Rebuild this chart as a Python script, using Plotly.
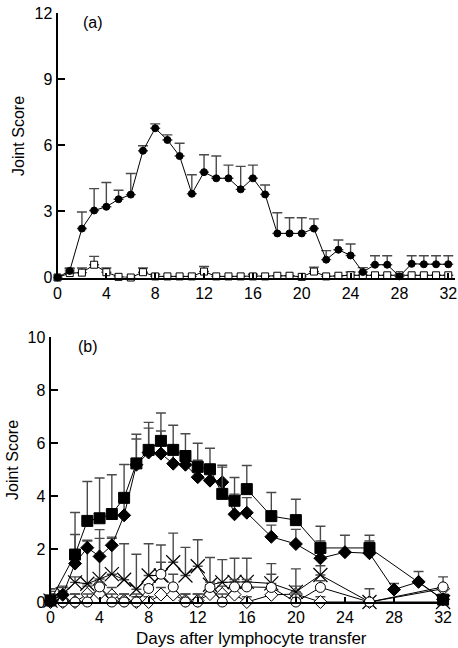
import plotly.graph_objects as go

# ---------------- Panel (a) ----------------
days_a = list(range(0, 33))
a_filled_mean = [0, 0.3, 2.22, 3.04, 3.21, 3.55, 3.76, 5.75, 6.77, 6.24, 5.51, 3.8, 4.78, 4.5, 4.5, 4.0,
                 4.5, 3.77, 2.0, 2.0, 2.0, 2.22, 0.81, 1.26, 1.0, 0.25, 0.58, 0.58, 0.05, 0.62, 0.6, 0.6, 0.6]
a_filled_top = [0, 0.4, 2.97, 4.03, 4.31, 3.96, 4.72, 5.98, 6.97, 6.47, 6.09, 4.66, 5.57, 5.51, 5.1, 5.04,
                5.1, 4.2, 2.94, 2.71, 2.71, 2.66, 1.22, 1.7, 1.52, 0.45, 0.99, 0.99, 0.1, 0.99, 0.99, 0.99, 0.99]
a_open_mean = [0, 0.2, 0.22, 0.58, 0.24, 0.03, 0.0, 0.24, 0.05, 0.05, 0.05, 0.05, 0.27, 0.05, 0.05, 0.05,
               0.05, 0.05, 0.08, 0.08, 0.03, 0.27, 0.05, 0.08, 0.1, 0.1, 0.1, 0.1, 0.1, 0.1, 0.1, 0.1, 0.1]
a_open_top = [0, 0.43, 0.43, 0.96, 0.43, 0.03, 0.0, 0.43, 0.15, 0.05, 0.05, 0.05, 0.5, 0.05, 0.05, 0.05,
              0.15, 0.05, 0.08, 0.08, 0.03, 0.47, 0.05, 0.08, 0.25, 0.1, 0.1, 0.1, 0.1, 0.1, 0.1, 0.1, 0.1]

# ---------------- Panel (b) ----------------
days_b = [0, 1, 2, 3, 4, 5, 6, 7, 8, 9, 10, 11, 12, 13, 14, 15, 16, 18, 20, 22, 26, 32]
days_sq = [0, 2, 3, 4, 5, 6, 7, 8, 9, 10, 11, 12, 13, 14, 15, 16, 18, 20, 22, 26, 32]
sq_mean = [0.06, 1.79, 3.06, 3.16, 3.32, 3.93, 5.23, 5.74, 6.08, 5.74, 5.51, 5.1, 5.01, 4.08, 3.82, 4.26,
           3.24, 3.09, 2.04, 2.04, 0.09]
sq_top = [0.5, 3.38, 4.55, 4.68, 4.8, 5.19, 6.33, 6.78, 7.13, 6.67, 6.35, 5.99, 5.8, 5.16, 4.7, 5.15,
          4.13, 3.88, 2.86, 2.52, 0.09]

days_dm = [0, 1, 2, 3, 4, 5, 6, 7, 8, 9, 10, 11, 12, 13, 14, 15, 16, 18, 20, 22, 24, 26, 28, 30, 32]
dm_mean = [0.05, 0.27, 1.45, 2.05, 1.72, 2.14, 3.27, 5.18, 5.64, 5.6, 5.22, 5.18, 4.71, 4.58, 4.52, 3.31,
           3.37, 2.46, 2.19, 1.65, 1.88, 1.84, 0.47, 0.76, 0.1]
dm_top = [0.3, 0.55, 2.55, 2.33, 2.73, 2.45, 3.9, 6.15, 6.56, 6.45, 5.75, 5.5, 5.35, 4.96, 5.09, 4.07,
          3.94, 2.9, 2.74, 2.3, 2.52, 2.3, 0.7, 1.15, 0.1]

cr_mean = [0.05, 0.3, 0.74, 0.69, 0.87, 1.05, 0.84, 0.48, 1.0, 1.0, 1.5, 1.0, 1.35, 0.65, 0.74, 0.76,
           0.76, 0.7, 0.38, 1.02, 0.0, 0.0]
cr_top = [0.5, 0.6, 0.95, 2.3, 2.4, 2.4, 2.2, 1.8, 2.2, 2.15, 2.6, 2.06, 2.35, 1.68, 1.6, 1.65,
          1.65, 1.45, 1.25, 1.37, 0.5, 0.0]

ci_mean = [0, 0, 0, 0, 0.57, 0, 0, 0, 0.51, 1.05, 0.57, 0, 0, 0.55, 0, 0.57,
           0.57, 0.55, 0, 0.55, 0, 0.57]
ci_top = [0.4, 0.4, 0.3, 0.3, 0.75, 0.3, 0.3, 0.3, 0.65, 1.5, 1.05, 0.3, 0.3, 0.75, 0.3, 0.85,
          0.85, 1.05, 0.3, 0.8, 0, 0.95]

od_mean = [0, 0, 0, 0.3, 0.32, 0.25, 0.05, 0, 0, 0.28, 0.28, 0.05, 0.05, 0.3, 0.3, 0.28,
           0, 0.27, 0.3, 0, 0, 0.5]
od_top = [0.3, 0.3, 0.3, 0.6, 0.6, 0.55, 0.3, 0.2, 0.2, 0.55, 0.55, 0.3, 0.3, 0.6, 0.6, 0.6,
          0.2, 0.55, 0.6, 0.2, 0, 0.6]

FONT = "Liberation Sans, Arial, Helvetica, sans-serif"
ERR_COLOR = "#4a4a4a"


def up(top, mean):
    return [max(t - m, 0) for t, m in zip(top, mean)]


def series(x, mean, top, symbol, size, fill, xa, ya, lw=1.0, mlw=1.0):
    return go.Scatter(
        x=x, y=mean, mode="lines+markers", xaxis=xa, yaxis=ya, cliponaxis=False,
        line=dict(color="black", width=lw),
        marker=dict(symbol=symbol, size=size, color=fill, line=dict(color="black", width=mlw)),
        error_y=dict(type="data", symmetric=False, array=up(top, mean), arrayminus=[0] * len(mean),
                     color=ERR_COLOR, thickness=1.4, width=5),
        showlegend=False,
    )


fig = go.Figure()
# panel a
fig.add_trace(series(days_a, a_open_mean, a_open_top, "square", 7, "white", "x", "y"))
fig.add_trace(series(days_a, a_filled_mean, a_filled_top, "circle", 7, "black", "x", "y"))
# panel b
fig.add_trace(series(days_b, od_mean, od_top, "diamond", 10, "white", "x2", "y2"))
fig.add_trace(series(days_b, cr_mean, cr_top, "x-thin-open", 14, "black", "x2", "y2", mlw=1.2))
fig.add_trace(series(days_b, ci_mean, ci_top, "circle", 10, "white", "x2", "y2"))
fig.add_trace(series(days_dm, dm_mean, dm_top, "diamond", 10, "black", "x2", "y2"))
fig.add_trace(series(days_sq, sq_mean, sq_top, "square", 11, "black", "x2", "y2"))

W, H = 458, 648
axis_common = dict(showline=True, linecolor="black", linewidth=1.8, showgrid=False, zeroline=False,
                   ticks="inside", tickcolor="black", tickwidth=1.5, automargin=False,
                   tickfont=dict(family=FONT, size=16, color="black"))

fig.update_layout(
    width=W, height=H, autosize=False, margin=dict(l=0, r=0, t=0, b=0, pad=0),
    paper_bgcolor="white", plot_bgcolor="white",
    xaxis=dict(domain=[57.5 / W, 455 / W], range=[0, 32.55], tickvals=list(range(0, 33, 4)),
               anchor="y", ticklen=5, **axis_common),
    yaxis=dict(domain=[1 - 277.5 / H, 1 - 13 / H], range=[0, 12], tickvals=[0, 3, 6, 9, 12],
               anchor="x", ticklen=8, **axis_common),
    xaxis2=dict(domain=[50.5 / W, 448 / W], range=[0, 32.4], tickvals=list(range(0, 33, 4)),
                anchor="y2", ticklen=5, **axis_common),
    yaxis2=dict(domain=[1 - 602 / H, 1 - 337 / H], range=[0, 10], tickvals=[0, 2, 4, 6, 8, 10],
                anchor="x2", ticklen=8, **axis_common),
    annotations=[
        dict(text="Joint Score", x=18 / W, y=1 - 136 / H, xref="paper", yref="paper", showarrow=False,
             textangle=-90, font=dict(family=FONT, size=16, color="black"), xanchor="center", yanchor="middle"),
        dict(text="Joint Score", x=12 / W, y=1 - 460 / H, xref="paper", yref="paper", showarrow=False,
             textangle=-90, font=dict(family=FONT, size=16, color="black"), xanchor="center", yanchor="middle"),
        dict(text="Days after lymphocyte transfer", x=252 / W, y=1 - 638 / H, xref="paper", yref="paper",
             showarrow=False, font=dict(family=FONT, size=17, color="black"), xanchor="center", yanchor="middle"),
        dict(text="(a)", x=93 / W, y=1 - 22 / H, xref="paper", yref="paper", showarrow=False,
             font=dict(family=FONT, size=16, color="black"), xanchor="center", yanchor="middle"),
        dict(text="(b)", x=88 / W, y=1 - 346 / H, xref="paper", yref="paper", showarrow=False,
             font=dict(family=FONT, size=16, color="black"), xanchor="center", yanchor="middle"),
    ],
)

fig.write_html(
    "out.html",
    config={"responsive": False, "displayModeBar": False},
    post_script="document.body.style.margin='0';document.body.style.overflow='hidden';",
)
